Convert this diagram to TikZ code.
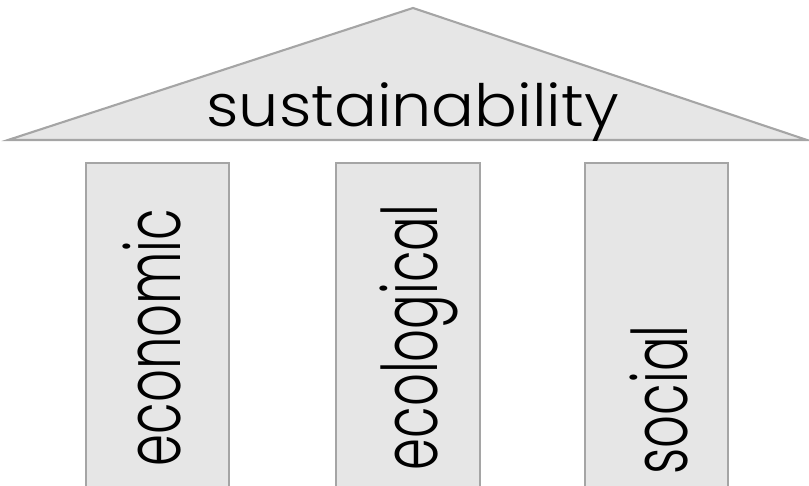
\documentclass[tikz,border=0pt]{standalone}
\usepackage{fontspec}
\setmainfont{Poppins Light}
\usepackage{tikz}

\definecolor{stonegray}{RGB}{230,230,230}
\definecolor{edgegray}{RGB}{165,165,165}

\newcommand{\squeeze}[2]{\scalebox{#1}[1]{#2}}

\tikzset{
  pillar/.style={draw=edgegray, fill=stonegray, line width=0.6pt},
  roof/.style={draw=edgegray, fill=stonegray, line width=0.6pt},
  pillarlbl/.style={rotate=90, anchor=base west, inner sep=0pt, font=\fontsize{21.8pt}{22pt}\selectfont},
  rooflbl/.style={anchor=base, inner sep=0pt, font=\fontsize{16.6pt}{17pt}\selectfont}
}

\begin{document}
\begin{tikzpicture}
      \useasboundingbox (0, 0) rectangle (8.09, 4.86);
      % roof
      \coordinate (apex) at (4.13, 4.78);
      \coordinate (eaveL) at (0.08, 3.46);
      \coordinate (eaveR) at (8.07, 3.46);
      \draw[roof] (eaveL)--(apex)--(eaveR)--cycle;
      \node[rooflbl] (sust) at (4.125, 3.59) {\squeeze{1.09}{sustainability}};
      % pillars
      \draw[pillar] (0.86, -0.1) rectangle (2.29, 3.23);
      \draw[pillar] (3.36, -0.1) rectangle (4.80, 3.23);
      \draw[pillar] (5.85, -0.1) rectangle (7.28, 3.23);
      \node[pillarlbl] (econ) at (1.80, 0.19) {\squeeze{0.67}{economic}};
      \node[pillarlbl] (ecol) at (4.37, 0.15) {\squeeze{0.67}{ecological}};
      \node[pillarlbl] (soc) at (6.87, 0.11) {\squeeze{0.67}{social}};
    \end{tikzpicture}
\end{document}
